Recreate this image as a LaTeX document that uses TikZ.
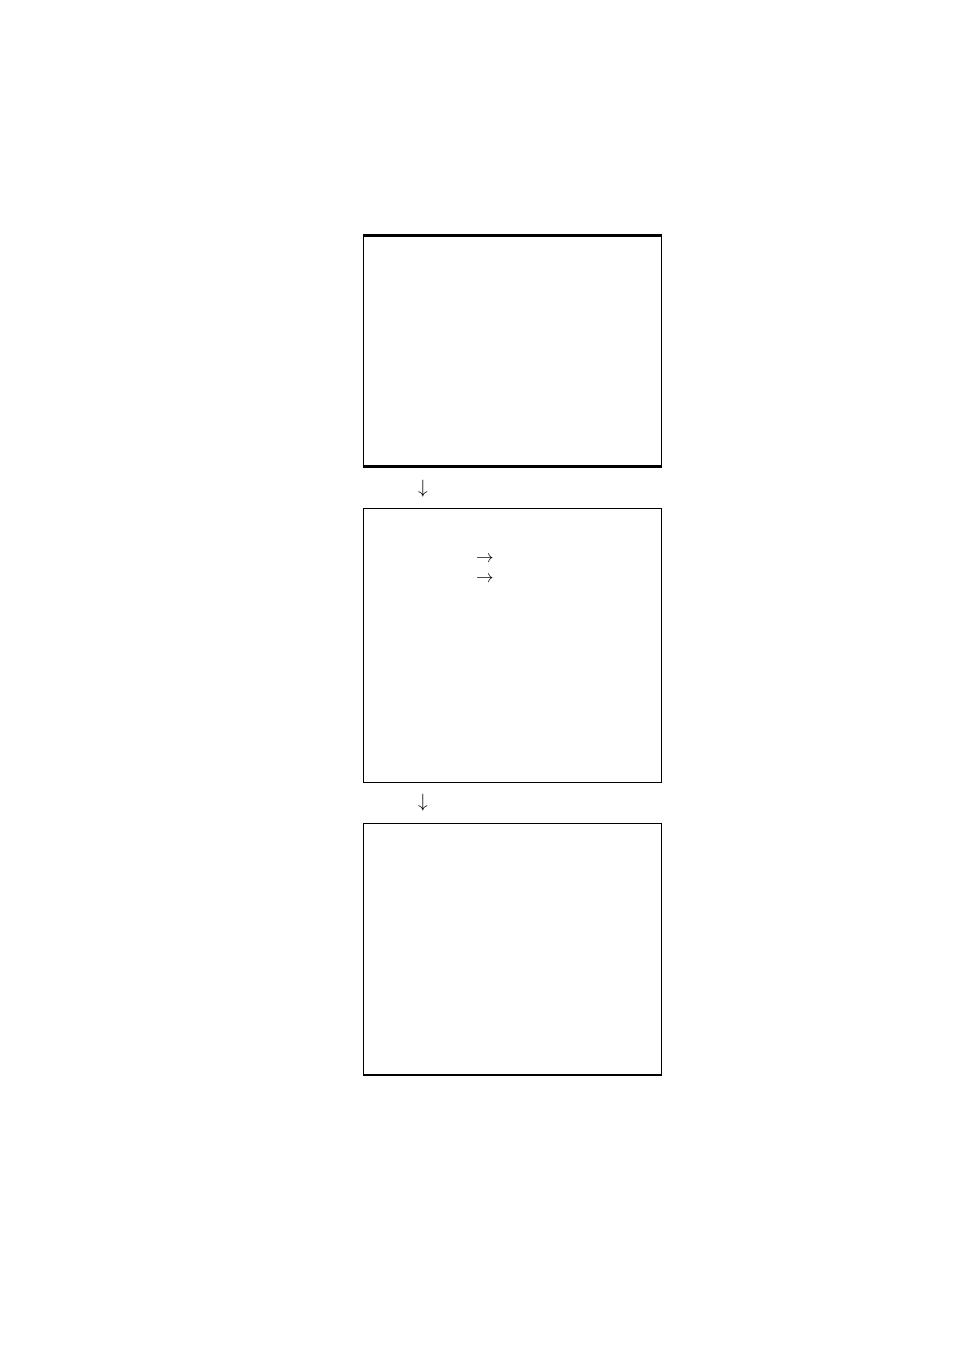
\documentclass[tikz,border=0pt]{standalone}
\begin{document}
\begin{tikzpicture}[x=0.624pt,y=-0.624pt,
  panel/.style={draw=black,line width=0.8pt},
  heavy/.style={draw=black,line width=1.3pt},
  glyph/.style={inner sep=0pt,font=\fontsize{10.5}{13}\selectfont},
  bigglyph/.style={inner sep=0pt,font=\fontsize{13}{15}\selectfont}]
\useasboundingbox (0,0) rectangle (954,1351);
\draw[panel] (363.5,235.5) rectangle (661.5,466.5);
\draw[heavy] (362.9,235.5) -- (662.1,235.5);
\draw[heavy] (362.9,466.5) -- (662.1,466.5);
\draw[panel] (363.5,508.5) rectangle (661.5,782.5);
\draw[panel] (363.5,823.5) rectangle (661.5,1075.5);
\draw[heavy] (362.9,1075) -- (662.1,1075);
\node[bigglyph] (d1) at (423,488.5) {$\downarrow$};
\node[bigglyph] (d2) at (423,802.5) {$\downarrow$};
\node[glyph] (r1) at (485,559) {$\rightarrow$};
\node[glyph] (r2) at (485,579) {$\rightarrow$};
\end{tikzpicture}
\end{document}
